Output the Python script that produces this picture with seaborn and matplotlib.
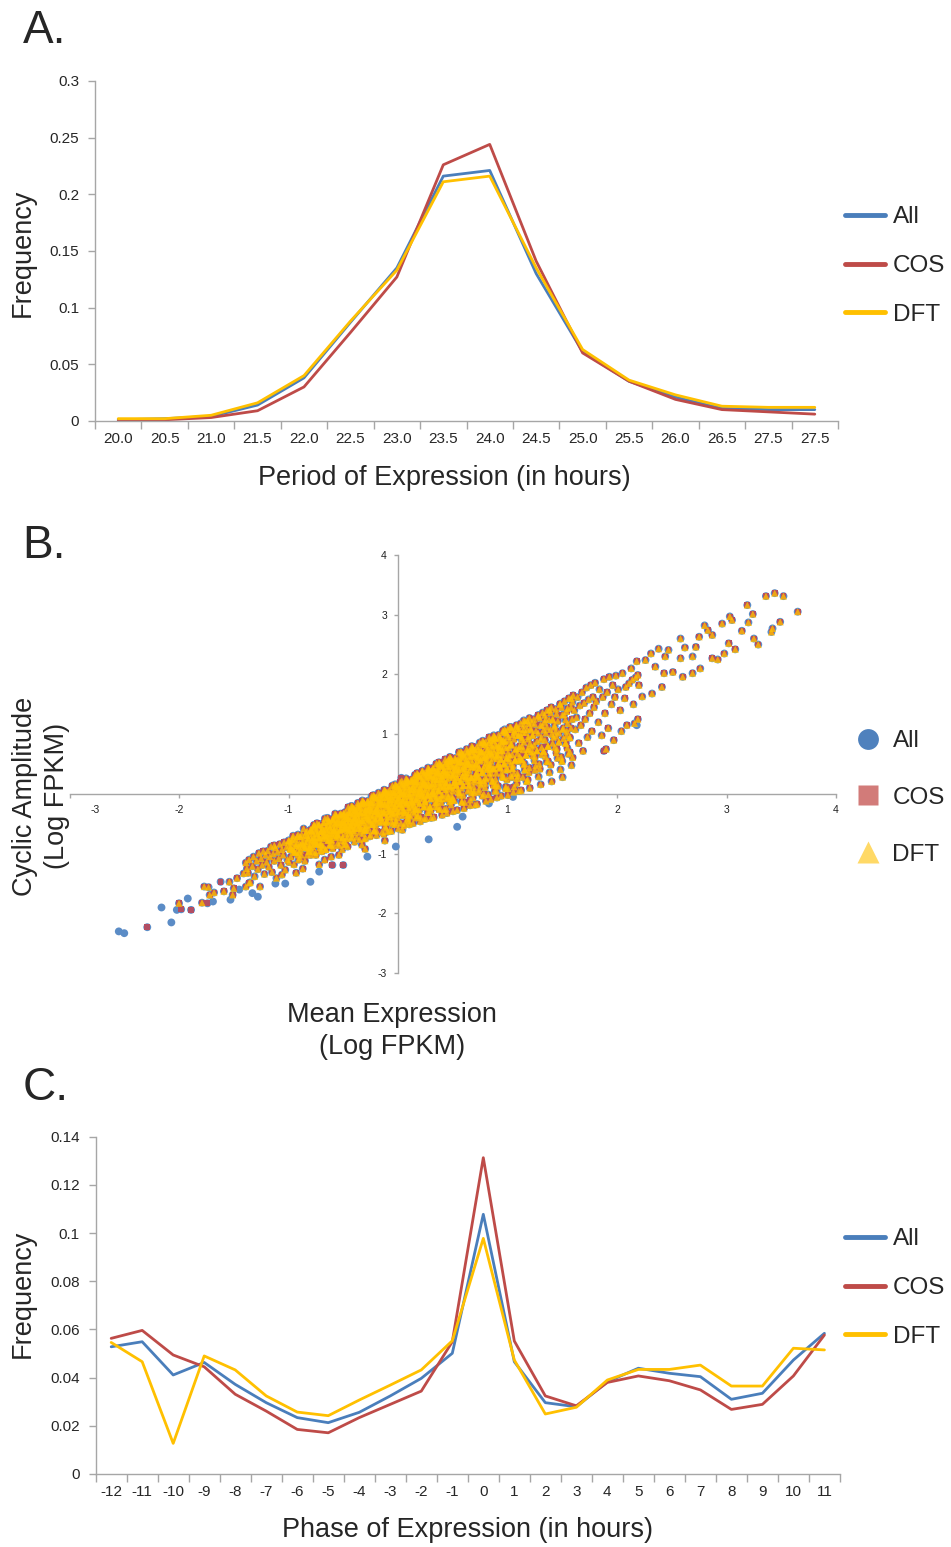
import matplotlib
matplotlib.use("Agg")
import numpy as np
import pandas as pd
import seaborn as sns
import matplotlib.pyplot as plt
from matplotlib.lines import Line2D
from matplotlib.transforms import ScaledTranslation

# ---------------- Panel A data ----------------
period_labels = ["20.0", "20.5", "21.0", "21.5", "22.0", "22.5", "23.0", "23.5",
                 "24.0", "24.5", "25.0", "25.5", "26.0", "26.5", "27.5", "27.5"]
period_all = [0.001, 0.002, 0.004, 0.014, 0.038, 0.087, 0.135, 0.216,
              0.221, 0.130, 0.061, 0.035, 0.021, 0.011, 0.010, 0.010]
period_cos = [0.000, 0.001, 0.003, 0.009, 0.030, 0.078, 0.127, 0.226,
              0.244, 0.141, 0.060, 0.035, 0.019, 0.010, 0.008, 0.006]
period_dft = [0.002, 0.002, 0.005, 0.016, 0.040, 0.088, 0.133, 0.211,
              0.216, 0.135, 0.063, 0.036, 0.023, 0.013, 0.012, 0.012]
freqA_ticks = [0, 0.05, 0.1, 0.15, 0.2, 0.25, 0.3]
freqA_ticklabels = ["0", "0.05", "0.1", "0.15", "0.2", "0.25", "0.3"]

# ---------------- Panel C data ----------------
phase_hours = [-12, -11, -10, -9, -8, -7, -6, -5, -4, -3, -2, -1,
               0, 1, 2, 3, 4, 5, 6, 7, 8, 9, 10, 11]
phase_all = [0.0528, 0.0549, 0.0411, 0.0463, 0.0372, 0.0296, 0.0234, 0.0213,
             0.0256, 0.0324, 0.0397, 0.0501, 0.1078, 0.0466, 0.0296, 0.0279,
             0.0383, 0.0439, 0.0418, 0.0404, 0.0310, 0.0335, 0.0473, 0.0584]
phase_cos = [0.0563, 0.0596, 0.0494, 0.0445, 0.0331, 0.0261, 0.0185, 0.0171,
             0.0234, 0.0289, 0.0344, 0.0549, 0.1313, 0.0552, 0.0324, 0.0283,
             0.0380, 0.0407, 0.0387, 0.0349, 0.0268, 0.0289, 0.0407, 0.0577]
phase_dft = [0.0546, 0.0466, 0.0127, 0.0490, 0.0432, 0.0324, 0.0257, 0.0242,
             0.0307, 0.0369, 0.0432, 0.0553, 0.0978, 0.0473, 0.0249, 0.0277,
             0.0390, 0.0434, 0.0434, 0.0452, 0.0365, 0.0365, 0.0522, 0.0515]
freqC_ticks = [0, 0.02, 0.04, 0.06, 0.08, 0.1, 0.12, 0.14]
freqC_ticklabels = ["0", "0.02", "0.04", "0.06", "0.08", "0.1", "0.12", "0.14"]

# ---------------- Panel B data: (mean log FPKM, amplitude log FPKM) ----------------
core_genes = [
    (-1.39, -1.15), (-1.37, -1.32), (-1.36, -1.10), (-1.35, -1.48), (-1.33, -1.21), (-1.32, -1.05),
    (-1.31, -1.38), (-1.29, -1.12), (-1.28, -1.26), (-1.27, -0.99), (-1.26, -1.55), (-1.25, -1.08),
    (-1.24, -1.19), (-1.23, -0.96), (-1.22, -1.34), (-1.21, -1.02), (-1.20, -1.14), (-1.38, -1.25),
    (-1.19, -0.95), (-1.18, -1.22), (-1.17, -1.05), (-1.16, -0.88), (-1.15, -1.31), (-1.14, -1.00),
    (-1.13, -1.12), (-1.12, -0.90), (-1.11, -1.41), (-1.10, -0.97), (-1.09, -1.08), (-1.08, -0.84),
    (-1.07, -1.19), (-1.06, -0.93), (-1.05, -1.02), (-1.04, -0.81), (-1.03, -1.27), (-1.02, -0.89),
    (-1.01, -1.10), (-1.00, -0.78), (-1.13, -0.86), (-1.06, -1.35),
    (-0.99, -0.80), (-0.98, -1.05), (-0.97, -0.92), (-0.96, -0.74), (-0.95, -1.18), (-0.94, -0.86),
    (-0.93, -0.98), (-0.92, -0.71), (-0.91, -1.10), (-0.90, -0.83), (-0.89, -0.94), (-0.88, -0.68),
    (-0.87, -1.25), (-0.86, -0.79), (-0.85, -0.90), (-0.84, -0.64), (-0.83, -1.02), (-0.82, -0.75),
    (-0.81, -0.87), (-0.80, -0.60), (-0.97, -0.77), (-0.93, -1.32), (-0.89, -0.72), (-0.85, -1.12),
    (-0.83, -0.70), (-0.81, -0.96),
    (-0.79, -0.62), (-0.78, -0.88), (-0.77, -0.73), (-0.76, -0.55), (-0.75, -1.02), (-0.74, -0.67),
    (-0.73, -0.80), (-0.72, -0.52), (-0.71, -0.95), (-0.70, -0.63), (-0.69, -0.74), (-0.68, -0.48),
    (-0.67, -1.10), (-0.66, -0.59), (-0.65, -0.70), (-0.64, -0.45), (-0.63, -0.86), (-0.62, -0.55),
    (-0.61, -0.66), (-0.60, -0.42), (-0.78, -0.57), (-0.76, -0.79), (-0.74, -0.49), (-0.72, -1.18),
    (-0.70, -0.84), (-0.68, -0.61), (-0.66, -0.93), (-0.64, -0.52), (-0.62, -0.77), (-0.61, -1.05),
    (-0.59, -0.44), (-0.58, -0.70), (-0.57, -0.55), (-0.56, -0.37), (-0.55, -0.82), (-0.54, -0.49),
    (-0.53, -0.62), (-0.52, -0.34), (-0.51, -0.93), (-0.50, -0.45), (-0.49, -0.57), (-0.48, -0.30),
    (-0.47, -0.75), (-0.46, -0.41), (-0.45, -0.52), (-0.44, -0.27), (-0.43, -0.67), (-0.42, -0.38),
    (-0.41, -0.49), (-0.40, -0.24), (-0.58, -0.39), (-0.56, -0.61), (-0.54, -1.02), (-0.52, -0.52),
    (-0.50, -0.33), (-0.48, -0.66), (-0.46, -0.88), (-0.44, -0.44), (-0.42, -0.58), (-0.41, -0.31),
    (-0.57, -0.48), (-0.53, -0.41), (-0.49, -0.79), (-0.47, -0.36), (-0.43, -0.53), (-0.40, -0.40),
    (-0.39, -0.26), (-0.38, -0.52), (-0.37, -0.37), (-0.36, -0.19), (-0.35, -0.64), (-0.34, -0.31),
    (-0.33, -0.44), (-0.32, -0.16), (-0.31, -0.75), (-0.30, -0.27), (-0.29, -0.39), (-0.28, -0.12),
    (-0.27, -0.57), (-0.26, -0.23), (-0.25, -0.34), (-0.24, -0.09), (-0.23, -0.49), (-0.22, -0.20),
    (-0.21, -0.30), (-0.20, -0.06), (-0.39, -0.41), (-0.37, -0.21), (-0.35, -0.47), (-0.33, -0.85),
    (-0.31, -0.24), (-0.29, -0.53), (-0.27, -0.15), (-0.25, -0.68), (-0.23, -0.28), (-0.21, -0.42),
    (-0.38, -0.33), (-0.36, -0.58), (-0.34, -0.18), (-0.32, -0.36), (-0.30, -0.60), (-0.28, -0.29),
    (-0.26, -0.45), (-0.24, -0.18), (-0.22, -0.62), (-0.20, -0.25), (-0.30, -0.92), (-0.25, -0.14),
    (-0.19, -0.08), (-0.18, -0.34), (-0.17, -0.19), (-0.16, -0.01), (-0.15, -0.46), (-0.14, -0.13),
    (-0.13, -0.26), (-0.12, 0.02), (-0.11, -0.57), (-0.10, -0.09), (-0.09, -0.21), (-0.08, 0.06),
    (-0.07, -0.39), (-0.06, -0.05), (-0.05, -0.16), (-0.04, 0.09), (-0.03, -0.31), (-0.02, -0.02),
    (-0.01, -0.12), (0.00, 0.12), (-0.19, -0.23), (-0.17, -0.03), (-0.15, -0.29), (-0.13, -0.67),
    (-0.11, -0.06), (-0.09, -0.35), (-0.07, 0.03), (-0.05, -0.50), (-0.03, -0.10), (-0.01, -0.24),
    (-0.18, -0.15), (-0.16, -0.40), (-0.14, 0.00), (-0.12, -0.18), (-0.10, -0.44), (-0.08, -0.11),
    (-0.06, -0.27), (-0.04, -0.01), (-0.02, -0.44), (0.00, -0.07), (-0.12, -0.78), (-0.06, -0.62),
    (-0.16, -0.10), (-0.09, -0.01), (-0.03, -0.20), (-0.01, 0.06),
    (0.01, 0.10), (0.02, -0.16), (0.03, -0.01), (0.04, 0.17), (0.05, -0.28), (0.06, 0.05),
    (0.07, -0.08), (0.08, 0.20), (0.09, -0.39), (0.10, 0.09), (0.11, -0.03), (0.12, 0.24),
    (0.13, -0.21), (0.14, 0.13), (0.15, 0.02), (0.16, 0.27), (0.17, -0.13), (0.18, 0.16),
    (0.19, 0.06), (0.20, 0.30), (0.01, -0.05), (0.03, 0.15), (0.05, -0.11), (0.07, -0.49),
    (0.09, 0.12), (0.11, -0.17), (0.13, 0.21), (0.15, -0.32), (0.17, 0.08), (0.19, -0.06),
    (0.02, 0.03), (0.04, -0.22), (0.06, 0.18), (0.08, 0.00), (0.10, -0.26), (0.12, 0.07),
    (0.14, -0.09), (0.16, 0.17), (0.18, -0.26), (0.20, 0.11), (0.04, -0.60), (0.10, -0.45),
    (0.16, -0.40), (0.02, 0.20), (0.08, -0.15), (0.14, 0.25), (0.18, 0.00), (0.06, -0.04),
    (0.21, 0.28), (0.22, 0.02), (0.23, 0.17), (0.24, 0.35), (0.25, -0.10), (0.26, 0.23),
    (0.27, 0.10), (0.28, 0.38), (0.29, -0.21), (0.30, 0.27), (0.31, 0.15), (0.32, 0.42),
    (0.33, -0.03), (0.34, 0.31), (0.35, 0.20), (0.36, 0.45), (0.37, 0.05), (0.38, 0.34),
    (0.39, 0.24), (0.40, 0.48), (0.21, 0.13), (0.23, 0.33), (0.25, 0.07), (0.27, -0.31),
    (0.29, 0.30), (0.31, 0.01), (0.33, 0.39), (0.35, -0.14), (0.37, 0.26), (0.39, 0.12),
    (0.22, 0.21), (0.24, -0.04), (0.26, 0.36), (0.28, 0.18), (0.30, -0.08), (0.32, 0.25),
    (0.34, 0.09), (0.36, 0.35), (0.38, -0.08), (0.40, 0.29), (0.24, -0.42), (0.30, -0.27),
    (0.36, -0.22), (0.22, 0.38), (0.28, 0.03), (0.32, 0.44), (0.38, 0.18), (0.26, 0.14),
    (0.41, 0.46), (0.42, 0.20), (0.43, 0.35), (0.44, 0.53), (0.45, 0.08), (0.46, 0.41),
    (0.47, 0.28), (0.48, 0.56), (0.49, -0.03), (0.50, 0.45), (0.51, 0.33), (0.52, 0.60),
    (0.53, 0.15), (0.54, 0.49), (0.55, 0.38), (0.56, 0.63), (0.57, 0.23), (0.58, 0.52),
    (0.59, 0.42), (0.60, 0.67), (0.41, 0.31), (0.43, 0.51), (0.45, 0.25), (0.47, -0.13),
    (0.49, 0.48), (0.51, 0.19), (0.53, 0.57), (0.55, 0.04), (0.57, 0.44), (0.59, 0.30),
    (0.42, 0.39), (0.44, 0.14), (0.46, 0.54), (0.48, 0.36), (0.50, 0.10), (0.52, 0.43),
    (0.54, 0.27), (0.56, 0.53), (0.58, 0.10), (0.60, 0.47), (0.44, -0.25), (0.50, -0.08),
    (0.56, -0.02), (0.46, 0.58), (0.52, 0.24), (0.58, 0.61),
    (0.61, 0.63), (0.62, 0.36), (0.63, 0.52), (0.64, 0.71), (0.65, 0.22), (0.66, 0.58),
    (0.67, 0.45), (0.68, 0.75), (0.69, 0.12), (0.70, 0.62), (0.71, 0.50), (0.72, 0.79),
    (0.73, 0.30), (0.74, 0.67), (0.75, 0.55), (0.76, 0.83), (0.77, 0.38), (0.78, 0.70),
    (0.79, 0.60), (0.80, 0.87), (0.61, 0.46), (0.63, 0.69), (0.65, 0.40), (0.67, 0.02),
    (0.69, 0.66), (0.71, 0.33), (0.73, 0.75), (0.75, 0.18), (0.77, 0.61), (0.79, 0.47),
    (0.62, 0.55), (0.64, 0.28), (0.66, 0.73), (0.68, 0.52), (0.70, 0.24), (0.72, 0.60),
    (0.74, 0.43), (0.76, 0.72), (0.78, 0.22), (0.80, 0.65), (0.66, -0.10), (0.74, 0.08),
    (0.81, 0.80), (0.82, 0.50), (0.83, 0.68), (0.84, 0.90), (0.85, 0.35), (0.86, 0.75),
    (0.87, 0.60), (0.88, 0.94), (0.89, 0.25), (0.90, 0.80), (0.91, 0.65), (0.92, 0.99),
    (0.93, 0.45), (0.94, 0.85), (0.95, 0.72), (0.96, 1.03), (0.97, 0.52), (0.98, 0.89),
    (0.99, 0.77), (1.00, 1.08), (0.81, 0.62), (0.83, 0.86), (0.85, 0.55), (0.87, 0.15),
    (0.89, 0.83), (0.91, 0.48), (0.93, 0.95), (0.95, 0.30), (0.97, 0.80), (0.99, 0.60),
    (0.84, 0.42), (0.86, 0.92), (0.88, 0.70), (0.90, 0.05), (0.92, 0.78), (0.94, 0.58),
    (0.96, 0.90), (0.98, 0.40),
    (1.01, 0.96), (1.02, 0.65), (1.03, 0.82), (1.04, 1.08), (1.05, 0.48), (1.06, 0.92),
    (1.07, 0.74), (1.08, 1.13), (1.09, 0.35), (1.10, 0.98), (1.11, 0.80), (1.12, 1.18),
    (1.13, 0.58), (1.14, 1.03), (1.15, 0.87), (1.16, 1.22), (1.17, 0.66), (1.18, 1.08),
    (1.19, 0.92), (1.20, 1.27), (1.01, 0.78), (1.04, 0.28), (1.07, 1.02), (1.10, 0.55),
    (1.13, 0.95), (1.16, 0.40), (1.19, 0.75), (1.03, 1.12), (1.09, 0.68), (1.15, 1.15),
    (1.06, 0.12), (1.18, 0.22),
    (1.21, 1.10), (1.22, 0.80), (1.23, 0.98), (1.24, 1.25), (1.25, 0.62), (1.26, 1.06),
    (1.27, 0.88), (1.28, 1.30), (1.29, 0.50), (1.30, 1.15), (1.31, 0.95), (1.32, 1.36),
    (1.33, 0.72), (1.34, 1.20), (1.35, 1.02), (1.36, 1.40), (1.37, 0.80), (1.38, 1.24),
    (1.39, 1.08), (1.40, 1.45), (1.22, 1.20), (1.25, 0.40), (1.28, 1.02), (1.31, 0.66),
    (1.34, 1.32), (1.37, 0.55), (1.23, 0.70), (1.36, 1.12),
    (1.41, 1.25), (1.42, 0.95), (1.43, 1.12), (1.44, 1.42), (1.45, 0.75), (1.46, 1.22),
    (1.47, 1.02), (1.48, 1.50), (1.49, 0.62), (1.50, 1.32), (1.51, 1.10), (1.52, 1.55),
    (1.53, 0.85), (1.54, 1.38), (1.55, 1.18), (1.56, 1.60), (1.57, 0.70), (1.58, 1.45),
    (1.59, 1.25), (1.60, 1.65), (1.44, 1.05), (1.50, 0.55), (1.54, 0.98), (1.58, 1.10),
    (1.61, 1.40), (1.62, 1.08), (1.63, 1.28), (1.64, 1.62), (1.65, 0.85), (1.66, 1.48),
    (1.67, 1.15), (1.68, 1.70), (1.69, 0.72), (1.70, 1.52), (1.71, 1.25), (1.72, 1.78),
    (1.73, 0.95), (1.74, 1.58), (1.75, 1.35), (1.76, 1.82), (1.77, 1.05), (1.78, 1.62),
    (1.79, 1.45), (1.80, 1.86),
    (1.81, 1.55), (1.83, 1.20), (1.84, 1.75), (1.86, 0.98), (1.87, 1.62), (1.88, 1.92),
    (1.89, 1.35), (1.91, 1.70), (1.92, 1.10), (1.93, 1.96), (1.95, 1.50), (1.96, 1.82),
    (1.97, 0.90), (1.98, 1.62), (1.99, 1.98), (1.90, 0.75),
    (2.01, 1.75), (2.03, 1.40), (2.05, 2.02), (2.07, 1.60), (2.09, 1.15), (2.11, 1.85),
    (2.13, 2.10), (2.15, 1.50), (2.17, 1.95), (2.19, 1.25), (2.18, 2.22), (2.04, 1.05),
]
dense_genes = [
    (-0.996, -0.78), (-0.983, -0.92), (-0.971, -0.82), (-0.958, -0.70), (-0.947, -0.97),
    (-0.934, -0.76), (-0.925, -0.83), (-0.913, -0.68), (-0.906, -0.89), (-0.992, -0.86),
    (-0.897, -0.71), (-0.884, -1.02), (-0.876, -0.81), (-0.862, -0.58), (-0.851, -0.70),
    (-0.843, -0.83), (-0.831, -0.62), (-0.822, -0.73), (-0.814, -0.91), (-0.803, -0.69),
    (-0.797, -0.60), (-0.788, -0.77), (-0.776, -0.66), (-0.765, -0.52), (-0.753, -0.83),
    (-0.742, -0.59), (-0.734, -0.67), (-0.721, -0.51), (-0.713, -0.74), (-0.704, -0.62),
    (-0.696, -0.54), (-0.687, -0.90), (-0.675, -0.65), (-0.668, -0.41), (-0.655, -0.54),
    (-0.643, -0.68), (-0.632, -0.45), (-0.624, -0.57), (-0.611, -0.77), (-0.603, -0.52),
    (-0.598, -0.43), (-0.586, -0.61), (-0.577, -0.50), (-0.566, -0.35), (-0.554, -0.69),
    (-0.545, -0.43), (-0.533, -0.51), (-0.524, -0.33), (-0.512, -0.60), (-0.503, -0.46),
    (-0.452, -0.31), (-0.497, -0.51), (-0.419, -0.21), (-0.471, -0.42), (-0.433, -0.55),
    (-0.484, -0.38), (-0.407, -0.24), (-0.458, -0.51), (-0.491, -0.48), (-0.426, -0.20),
    (-0.465, -0.38), (-0.402, -0.58), (-0.439, -0.32), (-0.478, -0.55), (-0.413, -0.22),
    (-0.446, -0.41),
    (-0.352, -0.23), (-0.397, -0.44), (-0.319, -0.12), (-0.371, -0.34), (-0.333, -0.48),
    (-0.384, -0.29), (-0.307, -0.15), (-0.358, -0.43), (-0.391, -0.39), (-0.326, -0.11),
    (-0.365, -0.30), (-0.302, -0.52), (-0.339, -0.24), (-0.378, -0.48), (-0.313, -0.14),
    (-0.346, -0.33),
    (-0.252, -0.14), (-0.297, -0.36), (-0.219, -0.03), (-0.271, -0.26), (-0.233, -0.40),
    (-0.284, -0.21), (-0.207, -0.06), (-0.258, -0.35), (-0.291, -0.31), (-0.226, -0.02),
    (-0.265, -0.22), (-0.202, -0.45), (-0.239, -0.15), (-0.278, -0.41), (-0.213, -0.05),
    (-0.246, -0.25),
    (-0.152, -0.05), (-0.197, -0.28), (-0.119, 0.06), (-0.171, -0.17), (-0.133, -0.33),
    (-0.184, -0.12), (-0.107, 0.03), (-0.158, -0.28), (-0.191, -0.24), (-0.126, 0.07),
    (-0.165, -0.13), (-0.102, -0.38), (-0.139, -0.06), (-0.178, -0.33), (-0.113, 0.04),
    (-0.146, -0.17),
    (-0.052, 0.03), (-0.097, -0.20), (-0.019, 0.15), (-0.071, -0.09), (-0.033, -0.25),
    (-0.084, -0.04), (-0.007, 0.12), (-0.058, -0.20), (-0.091, -0.15), (-0.026, 0.16),
    (-0.065, -0.05), (-0.002, -0.30), (-0.039, 0.02), (-0.078, -0.25), (-0.013, 0.13),
    (-0.046, -0.09),
    (0.048, 0.12), (0.003, -0.12), (0.081, 0.24), (0.029, 0.00), (0.067, -0.18),
    (0.016, 0.05), (0.093, 0.21), (0.042, -0.12), (0.009, -0.07), (0.074, 0.26),
    (0.035, 0.03), (0.098, -0.23), (0.061, 0.11), (0.022, -0.17), (0.087, 0.22),
    (0.054, 0.00), (0.038, -0.36), (0.071, 0.16),
    (0.148, 0.21), (0.103, -0.04), (0.181, 0.33), (0.129, 0.08), (0.167, -0.10),
    (0.116, 0.13), (0.193, 0.30), (0.142, -0.04), (0.109, 0.01), (0.174, 0.35),
    (0.135, 0.12), (0.198, -0.16), (0.161, 0.20), (0.122, -0.10), (0.187, 0.31),
    (0.154, 0.08), (0.138, -0.29), (0.171, 0.24),
    (0.248, 0.30), (0.203, 0.04), (0.281, 0.42), (0.229, 0.16), (0.267, -0.03),
    (0.216, 0.22), (0.293, 0.38), (0.242, 0.04), (0.209, 0.09), (0.274, 0.44),
    (0.235, 0.21), (0.298, -0.08), (0.261, 0.28), (0.222, -0.02), (0.287, 0.40),
    (0.254, 0.16), (0.238, -0.22), (0.271, 0.33),
    (0.348, 0.38), (0.303, 0.12), (0.381, 0.51), (0.329, 0.24), (0.367, 0.05),
    (0.316, 0.30), (0.393, 0.47), (0.342, 0.12), (0.309, 0.17), (0.374, 0.53),
    (0.335, 0.29), (0.398, -0.02), (0.361, 0.37), (0.322, 0.05), (0.387, 0.49),
    (0.354, 0.24), (0.338, -0.15), (0.371, 0.42),
    (0.448, 0.47), (0.403, 0.20), (0.481, 0.60), (0.429, 0.32), (0.467, 0.12),
    (0.416, 0.39), (0.493, 0.56), (0.442, 0.19), (0.409, 0.25), (0.474, 0.62),
    (0.435, 0.37), (0.498, 0.05), (0.461, 0.46), (0.422, 0.13), (0.487, 0.58),
    (0.454, 0.32), (0.438, -0.08), (0.471, 0.51),
    (0.548, 0.56), (0.503, 0.28), (0.581, 0.69), (0.529, 0.41), (0.567, 0.20),
    (0.516, 0.48), (0.593, 0.65), (0.542, 0.27), (0.509, 0.33), (0.574, 0.71),
    (0.535, 0.46), (0.598, 0.14), (0.561, 0.54), (0.522, 0.21), (0.587, 0.67),
    (0.554, 0.41),
    (0.648, 0.64), (0.603, 0.36), (0.681, 0.78), (0.629, 0.49), (0.667, 0.27),
    (0.616, 0.56), (0.693, 0.74), (0.642, 0.35), (0.609, 0.42), (0.674, 0.80),
    (0.635, 0.54), (0.698, 0.20), (0.661, 0.63), (0.622, 0.29), (0.687, 0.76),
    (0.654, 0.49),
    (0.748, 0.73), (0.703, 0.44), (0.781, 0.87), (0.729, 0.57), (0.767, 0.35),
    (0.716, 0.65), (0.793, 0.83), (0.742, 0.43), (0.709, 0.50), (0.774, 0.89),
    (0.735, 0.63), (0.798, 0.27), (0.761, 0.71), (0.722, 0.36), (0.787, 0.85),
    (0.754, 0.57),
    (0.848, 0.82), (0.803, 0.52), (0.881, 0.96), (0.829, 0.65), (0.867, 0.42),
    (0.816, 0.73), (0.893, 0.92), (0.842, 0.50), (0.809, 0.58), (0.874, 0.98),
    (0.835, 0.71), (0.898, 0.35), (0.861, 0.80), (0.822, 0.44), (0.887, 0.94),
    (0.854, 0.65),
    (0.948, 0.90), (0.903, 0.59), (0.981, 1.05), (0.929, 0.74), (0.967, 0.50),
    (0.916, 0.81), (0.993, 1.00), (0.942, 0.58), (0.909, 0.66), (0.974, 1.08),
    (0.935, 0.79), (0.998, 0.42), (0.961, 0.88), (0.922, 0.51), (0.987, 1.03),
    (0.954, 0.73),
    (1.048, 0.99), (1.003, 0.68), (1.081, 1.15), (1.029, 0.82), (1.067, 0.57),
    (1.016, 0.90), (1.093, 1.09), (1.042, 0.66),
    (1.148, 1.08), (1.103, 0.76), (1.181, 1.23), (1.129, 0.91), (1.167, 0.65),
    (1.116, 0.99), (1.193, 1.18), (1.142, 0.74),
    (1.248, 1.17), (1.203, 0.84), (1.281, 1.32), (1.229, 0.99), (1.267, 0.73),
    (1.216, 1.07), (1.293, 1.27), (1.242, 0.82),
    (1.348, 1.25), (1.303, 0.91), (1.381, 1.41), (1.329, 1.07), (1.367, 0.80),
    (1.316, 1.15), (1.393, 1.36), (1.342, 0.90),
    (1.448, 1.34), (1.403, 1.00), (1.481, 1.51), (1.429, 1.15), (1.467, 0.87),
    (1.416, 1.24), (1.493, 1.45), (1.442, 0.97),
    (1.548, 1.43), (1.503, 1.08), (1.581, 1.60), (1.529, 1.24), (1.567, 0.95),
    (1.516, 1.33), (1.593, 1.54), (1.542, 1.05),
]
lower_band_genes = [
    (-0.988, -0.92), (-0.943, -0.98), (-0.969, -0.93), (-0.916, -1.02), (-0.954, -0.95),
    (-0.997, -1.14), (-0.929, -0.87), (-0.905, -0.97),
    (-0.888, -0.85), (-0.843, -0.90), (-0.869, -0.86), (-0.816, -0.96), (-0.854, -0.88),
    (-0.897, -1.07), (-0.829, -0.80), (-0.805, -0.90),
    (-0.788, -0.77), (-0.743, -0.84), (-0.769, -0.79), (-0.716, -0.90), (-0.754, -0.81),
    (-0.797, -1.02), (-0.729, -0.73), (-0.705, -0.84),
    (-0.688, -0.70), (-0.643, -0.78), (-0.669, -0.71), (-0.616, -0.84), (-0.654, -0.74),
    (-0.697, -0.96), (-0.629, -0.66), (-0.605, -0.77),
    (-0.588, -0.62), (-0.543, -0.71), (-0.569, -0.65), (-0.516, -0.78), (-0.554, -0.68),
    (-0.597, -0.91), (-0.529, -0.59), (-0.505, -0.72),
    (-0.488, -0.55), (-0.443, -0.64), (-0.469, -0.57), (-0.416, -0.72), (-0.454, -0.61),
    (-0.497, -0.85), (-0.429, -0.51), (-0.405, -0.65),
    (-0.388, -0.48), (-0.343, -0.58), (-0.369, -0.50), (-0.316, -0.66), (-0.354, -0.54),
    (-0.397, -0.80), (-0.329, -0.44), (-0.305, -0.59),
    (-0.288, -0.40), (-0.243, -0.51), (-0.269, -0.43), (-0.216, -0.60), (-0.254, -0.47),
    (-0.297, -0.74), (-0.229, -0.37), (-0.205, -0.52),
    (-0.188, -0.33), (-0.143, -0.45), (-0.169, -0.36), (-0.116, -0.54), (-0.154, -0.40),
    (-0.197, -0.69), (-0.129, -0.30), (-0.105, -0.46),
    (-0.088, -0.25), (-0.043, -0.38), (-0.069, -0.29), (-0.016, -0.48), (-0.054, -0.33),
    (-0.097, -0.63), (-0.029, -0.22), (-0.005, -0.40),
    (0.012, -0.18), (0.057, -0.32), (0.031, -0.22), (0.084, -0.42), (0.046, -0.27),
    (0.003, -0.58), (0.071, -0.15), (0.095, -0.34),
    (0.112, -0.11), (0.157, -0.25), (0.131, -0.15), (0.184, -0.36), (0.146, -0.19),
    (0.103, -0.51), (0.171, -0.07), (0.195, -0.27),
    (0.212, -0.03), (0.257, -0.19), (0.231, -0.08), (0.284, -0.31), (0.246, -0.13),
    (0.203, -0.46), (0.271, -0.01), (0.295, -0.21),
    (0.312, 0.04), (0.357, -0.12), (0.331, 0.00), (0.384, -0.24), (0.346, -0.06),
    (0.303, -0.40), (0.371, 0.07), (0.395, -0.14),
    (0.412, 0.11), (0.457, -0.05), (0.431, 0.07), (0.484, -0.18), (0.446, 0.01),
    (0.403, -0.35), (0.471, 0.14), (0.495, -0.08),
    (0.512, 0.19), (0.557, 0.02), (0.531, 0.14), (0.584, -0.12), (0.546, 0.08),
    (0.503, -0.29), (0.571, 0.21), (0.595, -0.02),
    (0.612, 0.26), (0.657, 0.08), (0.631, 0.21), (0.684, -0.06), (0.646, 0.14),
    (0.603, -0.24), (0.671, 0.28), (0.695, 0.05),
    (0.712, 0.34), (0.757, 0.15), (0.731, 0.28), (0.784, 0.00), (0.746, 0.22),
    (0.703, -0.18), (0.771, 0.36), (0.795, 0.11),
    (0.812, 0.41), (0.857, 0.21), (0.831, 0.35), (0.884, 0.05), (0.846, 0.28),
    (0.803, -0.12), (0.871, 0.43), (0.895, 0.17),
    (0.912, 0.49), (0.957, 0.28), (0.931, 0.43), (0.984, 0.12), (0.946, 0.35),
    (0.903, -0.06), (0.971, 0.50), (0.995, 0.24),
    (1.012, 0.55), (1.057, 0.34), (1.031, 0.50), (1.084, 0.18), (1.046, 0.42),
    (1.003, -0.02), (1.071, 0.58), (1.095, 0.30),
    (1.112, 0.63), (1.157, 0.41), (1.131, 0.57), (1.184, 0.24), (1.146, 0.49),
    (1.103, 0.05), (1.171, 0.65), (1.195, 0.36),
    (1.212, 0.71), (1.257, 0.47), (1.231, 0.64), (1.284, 0.29), (1.246, 0.56),
    (1.203, 0.10), (1.271, 0.72), (1.295, 0.42),
    (1.312, 0.78), (1.357, 0.54), (1.331, 0.71), (1.384, 0.36), (1.346, 0.63),
    (1.303, 0.16), (1.371, 0.80), (1.395, 0.49),
    (1.412, 0.85), (1.457, 0.60), (1.431, 0.78), (1.484, 0.41), (1.446, 0.69),
    (1.403, 0.21), (1.471, 0.87), (1.495, 0.55),
    (1.512, 0.93), (1.557, 0.67), (1.531, 0.85), (1.584, 0.48), (1.546, 0.77),
    (1.503, 0.28), (1.571, 0.94), (1.595, 0.61),
]
fill_genes = [
    (-0.795, -0.85), (-0.787, -0.62), (-0.778, -0.96), (-0.769, -0.52), (-0.762, -0.73), (-0.754, -0.98),
    (-0.746, -0.62), (-0.737, -0.84), (-0.729, -0.52), (-0.721, -0.73), (-0.712, -0.85), (-0.704, -0.63),
    (-0.693, -0.58), (-0.685, -0.86), (-0.676, -0.48), (-0.667, -0.70), (-0.660, -0.93), (-0.652, -0.60),
    (-0.644, -0.40), (-0.635, -0.77), (-0.627, -0.47), (-0.619, -0.85), (-0.610, -0.61), (-0.602, -0.69),
    (-0.591, -0.86), (-0.583, -0.59), (-0.574, -0.33), (-0.565, -0.73), (-0.558, -0.47), (-0.550, -0.66),
    (-0.542, -0.86), (-0.533, -0.35), (-0.525, -0.59), (-0.517, -0.48), (-0.508, -0.73), (-0.500, -0.37),
    (-0.495, -0.32), (-0.487, -0.58), (-0.478, -0.84), (-0.469, -0.46), (-0.462, -0.72), (-0.454, -0.22),
    (-0.446, -0.60), (-0.437, -0.32), (-0.429, -0.74), (-0.421, -0.46), (-0.412, -0.34), (-0.404, -0.61),
    (-0.393, -0.57), (-0.385, -0.28), (-0.376, -0.72), (-0.367, -0.15), (-0.360, -0.43), (-0.352, -0.76),
    (-0.344, -0.30), (-0.335, -0.57), (-0.327, -0.16), (-0.319, -0.45), (-0.310, -0.61), (-0.302, -0.31),
    (-0.291, -0.26), (-0.283, -0.61), (-0.274, -0.12), (-0.265, -0.42), (-0.258, -0.71), (-0.250, -0.28),
    (-0.242, -0.04), (-0.233, -0.51), (-0.225, -0.14), (-0.217, -0.61), (-0.208, -0.30), (-0.200, -0.42),
    (-0.195, -0.62), (-0.187, -0.30), (-0.178, 0.02), (-0.169, -0.48), (-0.162, -0.15), (-0.154, -0.39),
    (-0.146, -0.64), (-0.137, 0.00), (-0.129, -0.31), (-0.121, -0.17), (-0.112, -0.48), (-0.104, -0.04),
    (-0.093, 0.03), (-0.085, -0.29), (-0.076, -0.61), (-0.067, -0.14), (-0.060, -0.47), (-0.052, 0.14),
    (-0.044, -0.32), (-0.035, 0.03), (-0.027, -0.51), (-0.019, -0.16), (-0.010, -0.02), (-0.002, -0.34),
    (0.009, -0.29), (0.017, 0.07), (0.026, -0.49), (0.035, 0.22), (0.042, -0.12), (0.050, -0.53),
    (0.058, 0.03), (0.067, -0.31), (0.075, 0.19), (0.083, -0.15), (0.092, -0.35), (0.100, 0.00),
    (0.105, 0.07), (0.113, -0.37), (0.122, 0.22), (0.131, -0.13), (0.138, -0.49), (0.146, 0.03),
    (0.154, 0.32), (0.163, -0.25), (0.171, 0.20), (0.179, -0.37), (0.188, 0.00), (0.196, -0.15),
    (0.207, -0.39), (0.215, 0.00), (0.224, 0.39), (0.233, -0.21), (0.240, 0.17), (0.248, -0.12),
    (0.256, -0.41), (0.265, 0.36), (0.273, -0.02), (0.281, 0.14), (0.290, -0.23), (0.298, 0.31),
    (0.309, 0.39), (0.317, 0.00), (0.326, -0.39), (0.335, 0.17), (0.342, -0.21), (0.350, 0.51),
    (0.358, -0.04), (0.367, 0.36), (0.375, -0.26), (0.383, 0.14), (0.392, 0.31), (0.400, -0.08),
    (0.405, -0.02), (0.413, 0.39), (0.422, -0.26), (0.431, 0.58), (0.438, 0.18), (0.446, -0.32),
    (0.454, 0.35), (0.463, -0.05), (0.471, 0.54), (0.479, 0.13), (0.488, -0.11), (0.496, 0.31),
    (0.507, 0.39), (0.515, -0.11), (0.524, 0.58), (0.533, 0.16), (0.540, -0.27), (0.548, 0.34),
    (0.556, 0.70), (0.565, 0.02), (0.573, 0.54), (0.581, -0.14), (0.590, 0.30), (0.598, 0.14),
    (0.609, -0.14), (0.617, 0.30), (0.626, 0.75), (0.635, 0.05), (0.642, 0.51), (0.650, 0.16),
    (0.658, -0.19), (0.667, 0.71), (0.675, 0.27), (0.683, 0.46), (0.692, 0.02), (0.700, 0.65),
    (0.705, 0.74), (0.713, 0.28), (0.722, -0.17), (0.731, 0.48), (0.738, 0.03), (0.746, 0.86),
    (0.754, 0.23), (0.763, 0.70), (0.771, -0.03), (0.779, 0.43), (0.788, 0.63), (0.796, 0.18),
    (0.807, 0.25), (0.815, 0.74), (0.824, -0.01), (0.833, 0.95), (0.840, 0.47), (0.848, -0.09),
    (0.856, 0.68), (0.865, 0.22), (0.873, 0.89), (0.881, 0.42), (0.890, 0.14), (0.898, 0.63),
    (0.909, 0.72), (0.917, 0.13), (0.926, 0.93), (0.935, 0.45), (0.942, -0.03), (0.950, 0.65),
    (0.958, 1.06), (0.967, 0.28), (0.975, 0.88), (0.983, 0.09), (0.992, 0.60), (1.000, 0.41),
    (1.005, 0.09), (1.013, 0.60), (1.022, 1.12), (1.031, 0.31), (1.038, 0.83), (1.046, 0.43),
    (1.054, 0.03), (1.063, 1.05), (1.071, 0.56), (1.079, 0.76), (1.088, 0.26), (1.096, 0.98),
    (1.107, 1.09), (1.115, 0.58), (1.124, 0.06), (1.133, 0.80), (1.140, 0.28), (1.148, 1.23),
    (1.156, 0.51), (1.165, 1.03), (1.173, 0.21), (1.181, 0.74), (1.190, 0.96), (1.198, 0.44),
]
high_tail_genes = [
    (3.65, 3.05), (3.36, 3.31), (3.44, 3.36), (3.52, 3.31), (3.19, 3.16), (3.24, 3.01),
    (3.20, 2.87), (3.14, 2.73), (3.25, 2.60), (3.29, 2.50), (3.41, 2.71), (3.49, 2.88),
    (3.42, 2.77), (3.03, 2.97), (3.05, 2.91), (2.96, 2.85), (3.02, 2.52), (3.08, 2.42),
    (2.98, 2.35), (2.80, 2.82), (2.83, 2.74), (2.87, 2.66), (2.75, 2.63), (2.72, 2.46),
    (2.69, 2.30), (2.87, 2.27), (2.92, 2.25), (2.58, 2.60), (2.62, 2.45), (2.58, 2.27),
    (2.47, 2.41), (2.44, 2.30), (2.51, 2.04), (2.60, 1.96), (2.69, 2.02), (2.76, 2.10),
    (2.38, 2.43), (2.31, 2.35), (2.26, 2.24), (2.35, 2.13), (2.43, 2.02), (2.41, 1.79),
    (2.32, 1.68), (2.23, 1.63), (2.16, 1.18), (2.19, 1.99), (2.14, 1.91), (2.20, 1.82),
    (2.08, 1.79),
]
low_tail_genes = [
    (-2.00, -1.83), (-1.79, -1.82), (-1.77, -1.55), (-1.73, -1.56), (-1.54, -1.47),
    (-1.68, -1.65), (-1.72, -1.69), (-1.59, -1.63), (-1.50, -1.58), (-1.47, -1.41),
    (-1.41, -1.33), (-1.51, -1.69), (-1.39, -1.55), (-1.36, -1.49),
]
all_only_genes = [
    (-2.55, -2.30), (-2.50, -2.33), (-2.07, -2.15), (-2.16, -1.90), (-2.02, -1.94),
    (-1.92, -1.75), (-1.69, -1.80), (-1.53, -1.77), (-1.45, -1.60), (-1.33, -1.66),
    (-1.28, -1.72), (0.28, -0.76), (-0.02, -0.88), (-0.28, -1.05), (-0.80, -1.47),
    (-1.03, -1.50), (-1.12, -1.50), (-0.72, -1.30), (0.54, -0.55), (0.59, -0.38),
    (0.83, -0.16), (0.91, -0.02), (1.05, -0.05), (2.18, 1.15),
]
cos_only_genes = [
    (-2.29, -2.23), (-1.89, -1.94), (-1.98, -1.93), (-1.62, -1.47), (-1.74, -1.83),
    (-0.60, -1.19), (-0.50, -1.19), (1.88, 0.72), (0.03, 0.27), (1.02, 0.10),
]
amp_ticks = [-3, -2, -1, 0, 1, 2, 3, 4]
mean_ticks = [-3, -2, -1, 0, 1, 2, 3, 4]

# colours
c_all, c_cos, c_dft = "#4A7EBB", "#BE4B48", "#FFC000"

# ---------------- figure ----------------
sns.set_theme(style="white")
plt.rcParams["font.family"] = ["Liberation Sans", "DejaVu Sans"]
fig = plt.figure(figsize=(9.51, 15.47), dpi=100)
fig.patch.set_facecolor("white")

spine_col = "#A6A6A6"
tick_txt = "#262626"


def style_line_axes(ax):
    for s in ["top", "right"]:
        ax.spines[s].set_visible(False)
    for s in ["left", "bottom"]:
        ax.spines[s].set_color(spine_col)
        ax.spines[s].set_linewidth(1.0)
    ax.tick_params(axis="y", which="major", direction="out", length=5, width=1,
                   color=spine_col, labelsize=11, labelcolor=tick_txt, pad=6.5, left=True)
    ax.tick_params(axis="x", which="major", length=0, labelsize=11,
                   labelcolor=tick_txt, pad=8, bottom=True)
    ax.tick_params(axis="x", which="minor", direction="out", length=6, width=1,
                   color=spine_col, bottom=True)
    ax.set_xlabel("")
    ax.set_ylabel("")
    ax.grid(False)


# ---- Panel A ----
axA = fig.add_axes([0.0999, 0.7279, 0.7813, 0.2198])
posA = np.arange(len(period_labels))
dfA = pd.DataFrame({
    "pos": np.concatenate([posA, posA, posA]),
    "freq": period_all + period_cos + period_dft,
    "series": ["All"] * len(posA) + ["COS"] * len(posA) + ["DFT"] * len(posA),
})
sns.lineplot(data=dfA, x="pos", y="freq", hue="series",
             palette={"All": c_all, "COS": c_cos, "DFT": c_dft},
             linewidth=2.0, ax=axA, legend=False)
axA.set_xlim(-0.5, len(period_labels) - 0.5)
axA.set_ylim(0, 0.3)
axA.set_yticks(freqA_ticks, freqA_ticklabels)
axA.set_xticks(posA, period_labels)
axA.set_xticks(np.arange(-0.5, len(period_labels), 1.0), minor=True)
style_line_axes(axA)

# ---- Panel C ----
axC = fig.add_axes([0.1006, 0.0472, 0.7826, 0.2180])
dfC = pd.DataFrame({
    "hour": phase_hours * 3,
    "freq": phase_all + phase_cos + phase_dft,
    "series": ["All"] * len(phase_hours) + ["COS"] * len(phase_hours) + ["DFT"] * len(phase_hours),
})
sns.lineplot(data=dfC, x="hour", y="freq", hue="series",
             palette={"All": c_all, "COS": c_cos, "DFT": c_dft},
             linewidth=2.0, ax=axC, legend=False)
axC.set_xlim(phase_hours[0] - 0.5, phase_hours[-1] + 0.5)
axC.set_ylim(0, 0.14)
axC.set_yticks(freqC_ticks, freqC_ticklabels)
axC.set_xticks(phase_hours, [str(h) for h in phase_hours])
axC.set_xticks(np.arange(phase_hours[0] - 0.5, phase_hours[-1] + 1.0, 1.0), minor=True)
style_line_axes(axC)

# ---- Panel B ----
axB = fig.add_axes([0.0731, 0.3709, 0.8060, 0.2704])
shared = core_genes + dense_genes + lower_band_genes + fill_genes + low_tail_genes + high_tail_genes
all_pts = shared + cos_only_genes + all_only_genes
cos_pts = shared + cos_only_genes
dft_pts = shared
mean_all, amp_all = zip(*all_pts)
mean_cos, amp_cos = zip(*cos_pts)
mean_dft, amp_dft = zip(*dft_pts)

sns.scatterplot(x=list(mean_all), y=list(amp_all), color="#5B8CC6", marker="o", s=32,
                edgecolor="none", ax=axB, zorder=3, legend=False)
sns.scatterplot(x=list(mean_cos), y=list(amp_cos), color="#B24E63", marker="s", s=17,
                edgecolor="none", ax=axB, zorder=4, legend=False)
sns.scatterplot(x=list(mean_dft), y=list(amp_dft), color=c_dft, marker="^", s=26,
                edgecolor="none", alpha=0.78, ax=axB, zorder=5, legend=False)
axB.set_xlim(-3, 4)
axB.set_ylim(-3, 4)
axB.spines["left"].set_position("zero")
axB.spines["bottom"].set_position("zero")
for s in ["top", "right"]:
    axB.spines[s].set_visible(False)
for s in ["left", "bottom"]:
    axB.spines[s].set_color(spine_col)
    axB.spines[s].set_linewidth(1.0)
axB.set_xticks(mean_ticks, [str(t) for t in mean_ticks])
axB.set_yticks(amp_ticks, [str(t) for t in amp_ticks])
axB.tick_params(axis="both", direction="out", length=3, width=1, color=spine_col,
                labelsize=7.5, labelcolor="#202020", pad=5, left=True, bottom=True)
axB.set_xlabel("")
axB.set_ylabel("")
axB.grid(False)
for lab in axB.get_xticklabels():
    if lab.get_text() == "-3":
        lab.set_transform(lab.get_transform() + ScaledTranslation(0.26, 0, fig.dpi_scale_trans))

# ---------------- text ----------------
big = 33
lab_fs = 19.5
fig.text(0.0239, 0.9724, "A.", fontsize=big, va="baseline", ha="left")
fig.text(0.0239, 0.6393, "B.", fontsize=big, va="baseline", ha="left")
fig.text(0.0239, 0.2890, "C.", fontsize=big, va="baseline", ha="left")

fig.text(0.0237, 0.8365, "Frequency", rotation=90, ha="center", va="center", fontsize=lab_fs)
fig.text(0.4669, 0.6910, "Period of Expression (in hours)", ha="center", va="center", fontsize=lab_fs)
fig.text(0.0431, 0.4855, "Cyclic Amplitude\n(Log FPKM)", rotation=90, ha="center", va="center",
         multialignment="center", fontsize=lab_fs, linespacing=1.32)
fig.text(0.4122, 0.3336, "Mean Expression\n(Log FPKM)", ha="center", va="center",
         multialignment="center", fontsize=lab_fs, linespacing=1.32)
fig.text(0.0237, 0.1635, "Frequency", rotation=90, ha="center", va="center", fontsize=lab_fs)
fig.text(0.4911, 0.0110, "Phase of Expression (in hours)", ha="center", va="center", fontsize=lab_fs)

# ---------------- legends ----------------
series_names = ["All", "COS", "DFT"]
line_handles = [Line2D([], [], color=c, lw=3.5, solid_capstyle="round") for c in (c_all, c_cos, c_dft)]
leg_kw = dict(loc="center left", frameon=False, fontsize=17.5, handlelength=1.65,
              handletextpad=0.33, labelspacing=1.1, borderpad=0, borderaxespad=0)
fig.legend(line_handles, series_names, bbox_to_anchor=(0.8885, 0.8280), **leg_kw)
fig.legend(line_handles, series_names, bbox_to_anchor=(0.8885, 0.1674), **leg_kw)

marker_handles = [
    Line2D([], [], ls="", marker="o", markersize=15, markerfacecolor="#4F81BD", markeredgecolor="none"),
    Line2D([], [], ls="", marker="s", markersize=15, markerfacecolor="#D27B79", markeredgecolor="none"),
    Line2D([], [], ls="", marker="^", markersize=16, markerfacecolor="#FFD966", markeredgecolor="none"),
]
fig.legend(marker_handles, series_names, loc="center left", frameon=False, fontsize=17.5,
           handlelength=1.0, handletextpad=0.5, labelspacing=1.43, borderpad=0,
           borderaxespad=0, bbox_to_anchor=(0.9001, 0.4842))

fig.savefig("out.png", dpi=100)
